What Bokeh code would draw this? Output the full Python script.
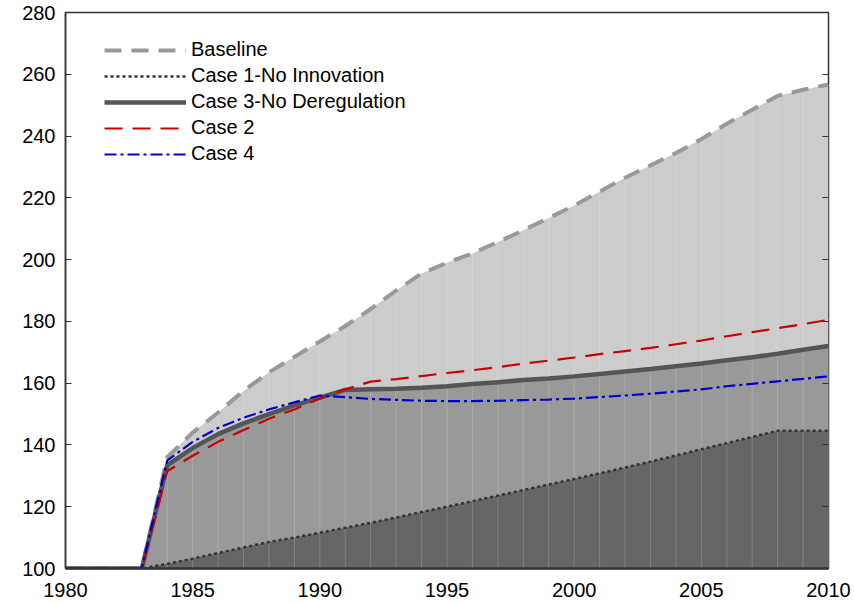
from bokeh.plotting import figure
from bokeh.models import Range1d, LinearAxis, Legend, LegendItem, FixedTicker
from bokeh.embed import file_html
from bokeh.resources import INLINE

years = list(range(1980, 2011))
baseline = [100, 100, 100, 100, 136, 144, 150.5, 157.5, 163.5, 168.5, 173.5, 178.5, 184, 190, 195.5,
            199, 202, 205.7, 209.5, 213.5, 217.5, 222, 226.5, 230.5, 234.5, 239, 244, 248.5, 253, 255, 256.7]
case1 = [100, 100, 100, 100, 101.5, 103.2, 105, 106.8, 108.6, 110, 111.6, 113.2, 114.8, 116.5, 118.3,
         120, 121.8, 123.6, 125.4, 127.2, 129, 130.8, 132.7, 134.6, 136.6, 138.6, 140.6, 142.6, 144.6, 144.6, 144.6]
case3 = [100, 100, 100, 100, 133.5, 139, 143.5, 147, 150, 152.8, 155.3, 157.8, 158, 158.2, 158.5,
         159, 159.7, 160.3, 161, 161.5, 162.2, 163, 163.8, 164.6, 165.5, 166.4, 167.4, 168.4, 169.5, 170.8, 172]
case2 = [100, 100, 100, 100, 131.5, 136.5, 141, 144.8, 148.5, 151.5, 155, 158, 160.5, 161.3, 162.3,
         163.3, 164.2, 165.2, 166.3, 167.3, 168.3, 169.4, 170.4, 171.4, 172.6, 173.8, 175.2, 176.5, 177.8, 179.1, 180.5]
case4 = [100, 100, 100, 100, 135, 141, 145.5, 148.8, 151.5, 153.8, 156, 155.5, 154.9, 154.6, 154.3,
         154.2, 154.2, 154.3, 154.5, 154.7, 155, 155.5, 156, 156.6, 157.3, 158, 159, 159.8, 160.6, 161.4, 162.2]
labels = ["Baseline", "Case 1-No Innovation", "Case 3-No Deregulation", "Case 2", "Case 4"]
x_ticks = [1980, 1985, 1990, 1995, 2000, 2005, 2010]
y_ticks = [100, 120, 140, 160, 180, 200, 220, 240, 260, 280]

FONT = "Liberation Sans"

p = figure(width=854, height=604, output_backend="svg", toolbar_location=None,
           x_range=Range1d(1980, 2010), y_range=Range1d(100, 280),
           min_border_left=65, min_border_right=26, min_border_top=12, min_border_bottom=36)
p.background_fill_color = "white"
p.border_fill_color = "white"
p.xgrid.visible = False
p.ygrid.visible = False
p.outline_line_color = "#333333"
p.outline_line_width = 1.5

# filled areas
p.varea(x=years, y1=100, y2=baseline, fill_color="#cccccc")
p.varea(x=years, y1=100, y2=case3, fill_color="#999999")
p.varea(x=years, y1=100, y2=case1, fill_color="#666666")

# faint seams at each year
seam_years = years[4:-1]
seam_tops = baseline[4:-1]
p.segment(x0=seam_years, y0=[100] * len(seam_years), x1=seam_years, y1=seam_tops,
          line_color="white", line_alpha=0.18, line_width=1)

r_base = p.line(years, baseline, line_color="#999999", line_width=4, line_dash="17 10")
r_c1 = p.line(years, case1, line_color="#333333", line_width=2.5, line_dash="3 3")
r_c3 = p.line(years, case3, line_color="#555555", line_width=4.5)
r_c2 = p.line(years, case2, line_color="#cc0000", line_width=2.2, line_dash="18 10")
r_c4 = p.line(years, case4, line_color="#0000cc", line_width=2.2, line_dash="12 4 3 4")

# axes styling
xa = p.xaxis[0]
xa.ticker = FixedTicker(ticks=x_ticks)
xa.axis_line_color = "#333333"
xa.axis_line_width = 2.5
xa.major_tick_line_alpha = 0
xa.minor_tick_line_alpha = 0
xa.major_label_text_font = FONT
xa.major_label_text_font_size = "20px"
xa.major_label_text_color = "black"
xa.major_label_standoff = 8

ya = p.yaxis[0]
ya.ticker = FixedTicker(ticks=y_ticks)
ya.axis_line_color = "#333333"
ya.axis_line_width = 1.5
ya.major_tick_in = 6
ya.major_tick_out = 0
ya.major_tick_line_color = "#333333"
ya.minor_tick_line_alpha = 0
ya.major_label_text_font = FONT
ya.major_label_text_font_size = "20px"
ya.major_label_text_color = "black"
ya.major_label_standoff = 10

ra = LinearAxis(ticker=FixedTicker(ticks=y_ticks))
ra.axis_line_alpha = 0
ra.major_tick_in = 6
ra.major_tick_out = 0
ra.major_tick_line_color = "#333333"
ra.minor_tick_line_alpha = 0
ra.major_label_text_alpha = 0
ra.major_label_text_font_size = "1px"
ra.major_label_standoff = 0
p.add_layout(ra, "right")

legend = Legend(items=[
    LegendItem(label=labels[0], renderers=[r_base]),
    LegendItem(label=labels[1], renderers=[r_c1]),
    LegendItem(label=labels[2], renderers=[r_c3]),
    LegendItem(label=labels[3], renderers=[r_c2]),
    LegendItem(label=labels[4], renderers=[r_c4]),
], location=(39, 403))
legend.border_line_alpha = 0
legend.background_fill_alpha = 0
legend.padding = 0
legend.margin = 0
legend.spacing = 3
legend.glyph_width = 82
legend.glyph_height = 20
legend.label_height = 20
legend.label_standoff = 5
legend.label_text_font = FONT
legend.label_text_font_size = "20px"
legend.label_text_color = "black"
p.add_layout(legend)

open("out.html", "w").write(file_html(p, INLINE))
